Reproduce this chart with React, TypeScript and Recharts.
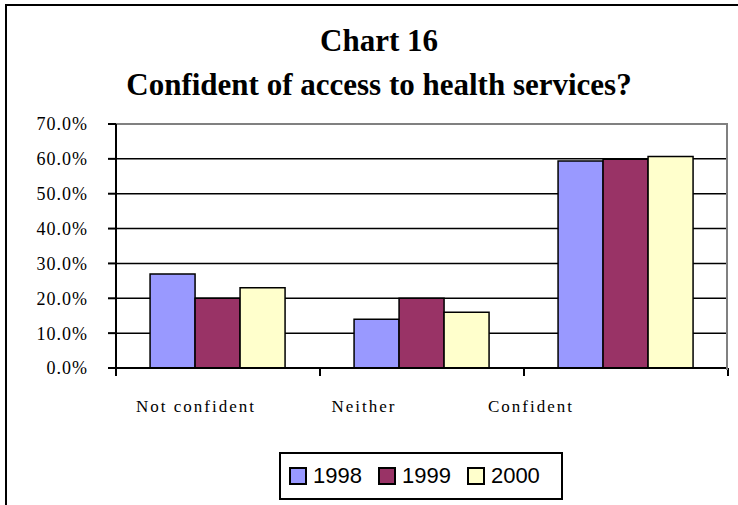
import { BarChart, Bar, XAxis, YAxis, CartesianGrid, ReferenceLine } from 'recharts';

const categories = ['Not confident', 'Neither', 'Confident'];
const years = ['1998', '1999', '2000'];
const values1998 = [27, 14, 59.4];
const values1999 = [20, 20, 59.9];
const values2000 = [23, 16, 60.7];
const yTicks = [0, 10, 20, 30, 40, 50, 60, 70];

const colors = ['#9999FF', '#993366', '#FFFFCC'];

const data = categories.map((c, i) => ({
  name: c,
  y1998: values1998[i],
  y1999: values1999[i],
  y2000: values2000[i],
}));

const SERIF = "'Liberation Serif', 'Times New Roman', Tinos, 'DejaVu Serif', serif";

// Excel drew the category labels a bit left of the band centres
const labelShift = [-22, -58, -95];

function CategoryTick(props: any) {
  const { x, y, payload, index } = props;
  const half = payload.offset ?? 0;
  const left = x - half;
  const right = x + half;
  return (
    <g>
      <line x1={left} y1={y} x2={left} y2={y + 8} stroke="#000" strokeWidth={2} />
      {index === categories.length - 1 && (
        <line x1={right} y1={y} x2={right} y2={y + 8} stroke="#000" strokeWidth={2} />
      )}
      <text
        x={x + labelShift[index]}
        y={y + 44}
        textAnchor="middle"
        style={{ fontFamily: SERIF }}
        fontSize={17}
        letterSpacing={2}
        fill="#000"
      >
        {payload.value}
      </text>
    </g>
  );
}

export default function App() {
  return (
    <div
      style={{
        position: 'absolute',
        left: 0,
        top: 0,
        width: 738,
        height: 505,
        background: '#fff',
        overflow: 'hidden',
      }}
    >
      <div
        style={{
          position: 'absolute',
          left: 5,
          top: 4,
          width: 800,
          height: 520,
          borderTop: '2px solid #000',
          borderLeft: '2px solid #000',
        }}
      />
      <div
        style={{
          position: 'absolute',
          left: 0,
          top: 19,
          width: 758,
          textAlign: 'center',
          fontFamily: SERIF,
          fontWeight: 'bold',
          fontSize: 31,
          lineHeight: '44px',
          color: '#000',
        }}
      >
        <div>Chart 16</div>
        <div>Confident of access to health services?</div>
      </div>

      <div style={{ position: 'absolute', left: 0, top: 0 }}>
        <BarChart
          width={738}
          height={505}
          data={data}
          margin={{ top: 124, right: 10, bottom: 136, left: 0 }}
          barCategoryGap="16.7%"
          barGap={0}
        >
          <CartesianGrid vertical={false} stroke="#000" strokeWidth={1.5} />
          <XAxis
            dataKey="name"
            axisLine={{ stroke: '#000', strokeWidth: 2 }}
            tickLine={false}
            tickSize={0}
            tickMargin={0}
            height={1}
            interval={0}
            tick={<CategoryTick />}
          />
          <YAxis
            type="number"
            domain={[0, 70]}
            ticks={yTicks}
            width={116}
            tickSize={8}
            tickMargin={20}
            interval={0}
            axisLine={{ stroke: '#000', strokeWidth: 2 }}
            tickLine={{ stroke: '#000', strokeWidth: 2 }}
            tick={{ fill: '#000', fontSize: 18, letterSpacing: 1, style: { fontFamily: SERIF } }}
            tickFormatter={(v: number) => `${v.toFixed(1)}%`}
          />
          <ReferenceLine y={70} stroke="#808080" strokeWidth={2} />
          {years.map((yr, i) => (
            <Bar
              key={yr}
              dataKey={`y${yr}`}
              fill={colors[i]}
              stroke="#000"
              strokeWidth={1.5}
              isAnimationActive={false}
            />
          ))}
        </BarChart>
      </div>
      <div
        style={{
          position: 'absolute',
          left: 726,
          top: 123,
          width: 2,
          height: 247,
          background: '#808080',
        }}
      />

      <div
        style={{
          position: 'absolute',
          left: 279,
          top: 452,
          width: 272,
          height: 44,
          border: '2px solid #000',
          display: 'flex',
          alignItems: 'center',
          paddingLeft: 8,
          boxSizing: 'content-box',
          fontFamily: "'Liberation Sans', Arial, sans-serif",
          fontSize: 22,
          color: '#000',
        }}
      >
        {years.map((yr, i) => (
          <div key={yr} style={{ display: 'flex', alignItems: 'center', marginRight: i < 2 ? 16 : 0 }}>
            <span
              style={{
                display: 'inline-block',
                width: 14,
                height: 14,
                background: colors[i],
                border: '2px solid #000',
                marginRight: 6,
              }}
            />
            <span>{yr}</span>
          </div>
        ))}
      </div>
    </div>
  );
}
